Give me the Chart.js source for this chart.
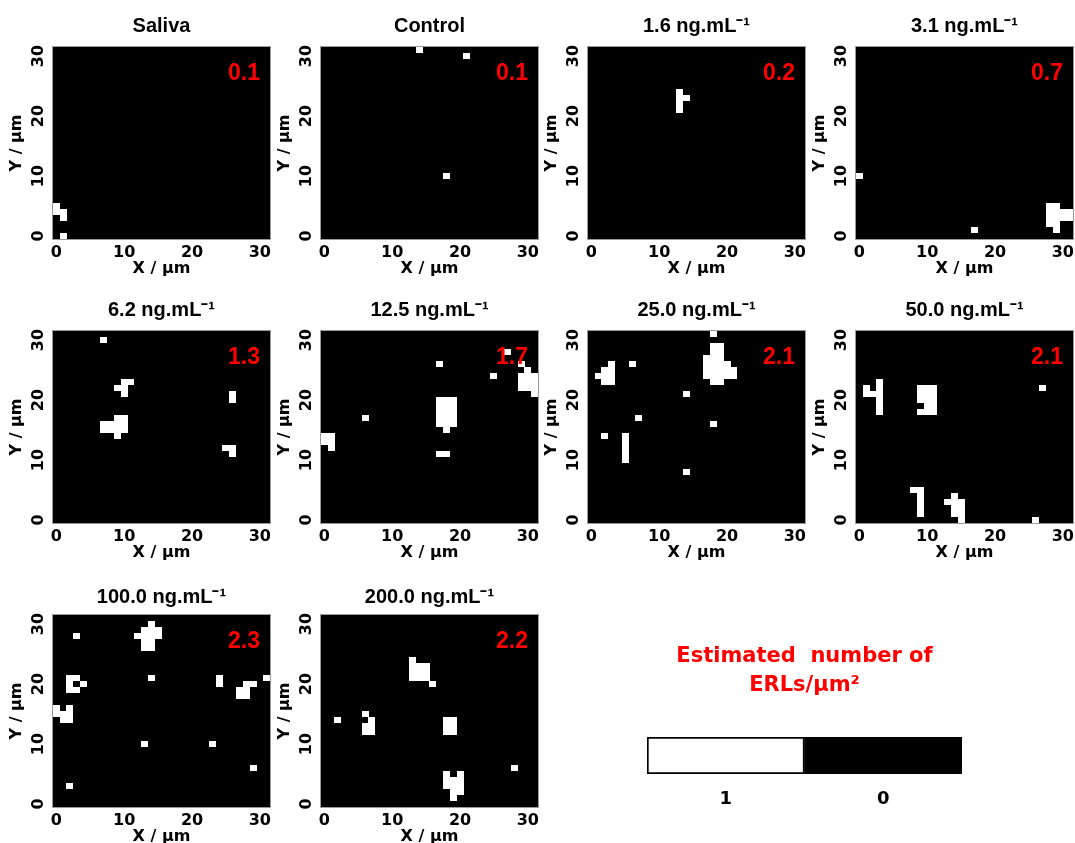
<!DOCTYPE html>
<html>
<head>
<meta charset="utf-8">
<script src="https://cdn.jsdelivr.net/npm/chart.js@4.4.1/dist/chart.umd.min.js"></script>
<style>
  html, body { margin: 0; padding: 0; background: #ffffff; }
  body { width: 1075px; height: 843px; position: relative; overflow: hidden; }
  canvas { position: absolute; }
</style>
</head>
<body>
<script>
// ---------------- DATA ----------------
const panelTitles = ['Saliva', 'Control', '1.6 ng.mL\u207B\u00B9', '3.1 ng.mL\u207B\u00B9',
  '6.2 ng.mL\u207B\u00B9', '12.5 ng.mL\u207B\u00B9', '25.0 ng.mL\u207B\u00B9', '50.0 ng.mL\u207B\u00B9',
  '100.0 ng.mL\u207B\u00B9', '200.0 ng.mL\u207B\u00B9'];
const panelValues = ['0.1', '0.1', '0.2', '0.7', '1.3', '1.7', '2.1', '2.1', '2.3', '2.2'];
const axisTicks = [0, 10, 20, 30];
const gridMin = -0.5;
const gridMax = 31.5;

// white cells [x, y] (value 1), every other cell is 0
const cellsSaliva = [[0,5],[0,4],[1,4],[1,3],[1,0]];
const cellsControl = [[14,31],[21,30],[18,10]];
const cells1p6 = [[13,21],[13,22],[13,23],[13,24],[14,23]];
const cells3p1 = [[0,10],[17,1],[28,2],[28,3],[28,4],[28,5],[29,1],[29,2],[29,3],[29,4],[29,5],
  [30,3],[30,4],[31,3],[31,4]];
const cells6p2 = [[7,30],[10,23],[11,23],[9,22],[10,22],[10,21],
  [9,17],[10,17],[7,16],[8,16],[9,16],[10,16],[7,15],[8,15],[9,15],[10,15],[9,14],
  [26,21],[26,20],[25,12],[26,12],[26,11]];
const cells12p5 = [[27,28],[29,26],[30,25],[29,24],[30,24],[31,24],[29,23],[30,23],[31,23],
  [29,22],[30,22],[31,22],[31,21],[25,24],[17,26],
  [17,20],[18,20],[19,20],[17,19],[18,19],[19,19],[17,18],[18,18],[19,18],[17,17],[18,17],[19,17],
  [17,16],[18,16],[19,16],[18,15],[6,17],[0,14],[1,14],[0,13],[1,13],[1,12],[17,11],[18,11]];
const cells25p0 = [[18,31],
  [17,24],[17,25],[17,26],[17,27],
  [18,23],[18,24],[18,25],[18,26],[18,27],[18,28],[18,29],
  [19,23],[19,24],[19,25],[19,26],[19,27],[19,28],[19,29],
  [20,24],[20,25],[20,26],[21,24],[21,25],
  [3,23],[3,24],[3,25],[3,26],[2,23],[2,24],[2,25],[1,24],
  [6,26],[14,21],[7,17],[18,16],[2,14],[5,10],[5,11],[5,12],[5,13],[5,14],[14,8]];
const cells50p0 = [[27,22],[1,22],[1,21],[2,21],[3,18],[3,19],[3,20],[3,21],[3,22],[3,23],
  [9,18],[9,20],[9,21],[9,22],[10,18],[10,19],[10,20],[10,21],[10,22],
  [11,18],[11,19],[11,20],[11,21],[11,22],
  [9,1],[9,2],[9,3],[9,4],[9,5],[8,5],
  [14,4],[13,3],[14,3],[15,3],[14,2],[15,2],[14,1],[15,1],[15,0],[26,0]];
const cells100p0 = [[14,30],[13,29],[14,29],[15,29],[12,28],[13,28],[14,28],[15,28],
  [13,27],[14,27],[13,26],[14,26],[3,28],[14,21],
  [2,21],[3,21],[2,20],[4,20],[2,19],[3,19],[24,21],[24,20],[31,21],
  [28,20],[29,20],[27,19],[28,19],[27,18],[28,18],
  [0,16],[0,15],[1,15],[1,14],[2,16],[2,15],[2,14],[13,10],[23,10],[29,6],[2,3]];
const cells200p0 = [[13,24],[13,23],[14,23],[15,23],[13,22],[14,22],[15,22],[13,21],[14,21],[15,21],
  [16,20],[2,14],[6,15],[7,14],[6,13],[7,13],[6,12],[7,12],
  [18,12],[19,12],[18,13],[19,13],[18,14],[19,14],[28,6],
  [18,5],[20,5],[18,4],[19,4],[20,4],[18,3],[19,3],[20,3],[19,2],[20,2],[19,1]];
const panelCells = [cellsSaliva, cellsControl, cells1p6, cells3p1, cells6p2, cells12p5,
  cells25p0, cells50p0, cells100p0, cells200p0];

const legendTitle = ['Estimated  number of', 'ERLs/\u00B5m\u00B2'];
const legendCategories = ['1', '0'];
const legendSpan = [1, 1];
const legendColors = ['#ffffff', '#000000'];

// ---------------- STYLE / LAYOUT ----------------
const titleFamily = "'Liberation Sans', Arial, sans-serif";
const axisFamily = "'DejaVu Sans', sans-serif";
const plotLefts = [53, 321, 588, 856];
const plotTops = [47, 331, 615];
const titlePadTop = [14, 14, 17];
const plotW = 217, plotH = 192;
const leftSpace = 53, topSpace = 47, bottomSpace = 45, rightSpace = 3;

const cellCache = {};
function cellImage(ctx) {
  const ch = ctx.chart;
  const xs = ch.scales.x, ys = ch.scales.y;
  const w = Math.abs(xs.getPixelForValue(1) - xs.getPixelForValue(0));
  const h = Math.abs(ys.getPixelForValue(1) - ys.getPixelForValue(0));
  const key = w.toFixed(3) + '_' + h.toFixed(3);
  if (!cellCache[key]) {
    const cv = document.createElement('canvas');
    cv.width = Math.max(1, Math.round(w + 0.3));
    cv.height = Math.max(1, Math.round(h));
    const g = cv.getContext('2d');
    g.fillStyle = '#ffffff';
    g.fillRect(0, 0, cv.width, cv.height);
    cellCache[key] = cv;
  }
  return cellCache[key];
}

const panelDecor = {
  id: 'panelDecor',
  beforeDatasetsDraw(chart, args, opts) {
    const a = chart.chartArea, c = chart.ctx;
    c.save();
    c.fillStyle = opts.background;
    c.fillRect(a.left, a.top, a.right - a.left, a.bottom - a.top);
    c.restore();
  },
  afterDatasetsDraw(chart, args, opts) {
    const a = chart.chartArea, c = chart.ctx;
    c.save();
    c.strokeStyle = opts.frameColor;
    c.lineWidth = 1;
    c.strokeRect(a.left - 0.5, a.top - 0.5, a.right - a.left + 1, a.bottom - a.top + 1);
    c.fillStyle = opts.valueColor;
    c.font = 'bold 23px ' + titleFamily;
    c.textAlign = 'right';
    c.textBaseline = 'alphabetic';
    c.fillText(opts.value, a.right - 10, a.top + 33);
    c.restore();
  }
};

function makeCanvas(left, top, w, h) {
  const cv = document.createElement('canvas');
  cv.width = w; cv.height = h;
  cv.style.left = left + 'px';
  cv.style.top = top + 'px';
  cv.style.width = w + 'px';
  cv.style.height = h + 'px';
  document.body.appendChild(cv);
  return cv;
}

function setTicks(scale) { scale.ticks = axisTicks.map(v => ({ value: v })); }

panelTitles.forEach((title, i) => {
  const col = i % 4, row = Math.floor(i / 4);
  const W = leftSpace + plotW + rightSpace, H = topSpace + plotH + bottomSpace;
  const cv = makeCanvas(plotLefts[col] - leftSpace, plotTops[row] - topSpace, W, H);
  new Chart(cv, {
    type: 'scatter',
    data: {
      datasets: [{
        data: panelCells[i].map(p => ({ x: p[0], y: p[1] })),
        pointStyle: cellImage,
        pointRadius: 3,
        pointHoverRadius: 3,
        borderWidth: 0,
        clip: 0
      }]
    },
    options: {
      responsive: false,
      animation: false,
      events: [],
      devicePixelRatio: 1,
      layout: { padding: { left: 0, right: rightSpace, top: 0, bottom: 0 } },
      plugins: {
        legend: { display: false },
        tooltip: { enabled: false },
        title: {
          display: true, text: title, color: '#000000', fullSize: false,
          font: { family: titleFamily, size: 20, weight: 'bold', lineHeight: 1.2 },
          padding: { top: titlePadTop[row], bottom: topSpace - 24 - titlePadTop[row] }
        },
        panelDecor: { background: '#000000', frameColor: '#9a9a9a', valueColor: '#ff0000', value: panelValues[i] }
      },
      scales: {
        x: {
          type: 'linear', min: gridMin, max: gridMax,
          afterBuildTicks: setTicks,
          afterFit: s => { s.height = bottomSpace; s.paddingLeft = 0; s.paddingRight = 0; },
          grid: { display: false, drawTicks: false },
          border: { display: false },
          ticks: { color: '#000000', padding: 4, autoSkip: false, maxRotation: 0,
            font: { family: axisFamily, size: 16, weight: 'bold' } },
          title: { display: true, text: 'X / \u00B5m', color: '#000000',
            font: { family: axisFamily, size: 16, weight: 'bold' }, padding: { top: 0, bottom: 6 } }
        },
        y: {
          type: 'linear', min: gridMin, max: gridMax,
          afterBuildTicks: setTicks,
          afterFit: s => { s.width = leftSpace; s.paddingTop = 0; s.paddingBottom = 0; },
          grid: { display: false, drawTicks: false },
          border: { display: false },
          ticks: { color: '#000000', padding: 3, autoSkip: false, minRotation: 90, maxRotation: 90,
            crossAlign: 'center', font: { family: axisFamily, size: 16, weight: 'bold' } },
          title: { display: true, text: 'Y / \u00B5m', color: '#000000',
            font: { family: axisFamily, size: 16, weight: 'bold' }, padding: { top: 7, bottom: 0 } }
        }
      }
    },
    plugins: [panelDecor]
  });
});

// ---------------- colour-scale legend ----------------
(function () {
  const cv = makeCanvas(637, 632, 335, 182);
  new Chart(cv, {
    type: 'bar',
    data: {
      labels: legendCategories,
      datasets: [{
        data: legendSpan,
        backgroundColor: legendColors,
        borderColor: '#000000',
        borderWidth: 2,
        borderSkipped: false,
        barPercentage: 1,
        categoryPercentage: 1
      }]
    },
    options: {
      responsive: false,
      animation: false,
      events: [],
      devicePixelRatio: 1,
      layout: { padding: { left: 10, right: 10, top: 0, bottom: 0 } },
      plugins: {
        legend: { display: false },
        tooltip: { enabled: false },
        title: {
          display: true, text: legendTitle, color: '#ff0000',
          font: { family: axisFamily, size: 21, weight: 'bold', lineHeight: 29 / 21 },
          padding: { top: 10, bottom: 37 }
        }
      },
      scales: {
        x: {
          grid: { display: false, drawTicks: false },
          border: { display: false },
          afterFit: s => { s.height = 40; s.paddingLeft = 0; s.paddingRight = 0; },
          ticks: { color: '#000000', padding: 15, maxRotation: 0,
            font: { family: axisFamily, size: 18, weight: 'bold' } }
        },
        y: { display: false, min: 0, max: 1 }
      }
    }
  });
})();
</script>
</body>
</html>
